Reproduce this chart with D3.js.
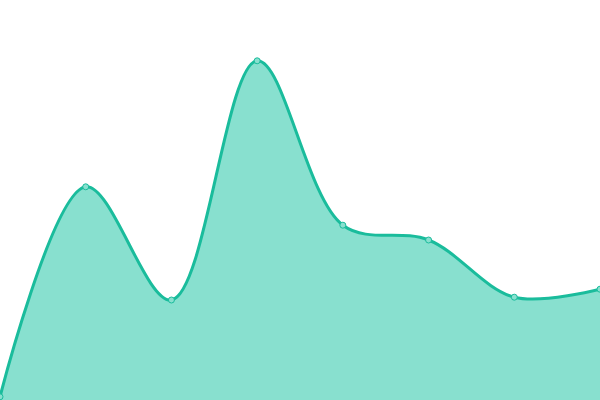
<!DOCTYPE html>
<html>
<head>
<meta charset="utf-8">
<script src="https://cdn.jsdelivr.net/npm/d3@7"></script>
<style>
  html, body { margin: 0; padding: 0; background: #fff; }
  svg { display: block; }
</style>
</head>
<body>
<svg></svg>
<script>
const CATEGORIES = ['A', 'B', 'C', 'D', 'E', 'F', 'G', 'H'];
const VALUES = [0.8, 53.3, 25, 84.8, 43.7, 40, 25.7, 27.7];

const WIDTH = 600;
const HEIGHT = 400;

const x = d3.scalePoint().domain(CATEGORIES).range([0, WIDTH]); // points spread edge to edge
const y = d3.scaleLinear().domain([0, 100]).range([HEIGHT, 0]);

const data = CATEGORIES.map((c, i) => ({ cat: c, value: VALUES[i] }));

const svg = d3.select('svg')
  .attr('width', WIDTH)
  .attr('height', HEIGHT);

// centripetal catmull-rom, handles get shorter next to short segments
const curve = d3.curveCatmullRom.alpha(0.5);

const area = d3.area()
  .x(d => x(d.cat))
  .y0(HEIGHT)
  .y1(d => y(d.value))
  .curve(curve);

const line = d3.line()
  .x(d => x(d.cat))
  .y(d => y(d.value))
  .curve(curve);

svg.append('path')
  .datum(data)
  .attr('d', area)
  .attr('fill', '#88e0cf');

svg.append('path')
  .datum(data)
  .attr('d', line)
  .attr('fill', 'none')
  .attr('stroke', '#1abc9c')
  .attr('stroke-width', 3);

svg.selectAll('.dot')
  .data(data)
  .enter()
  .append('circle')
  .classed('dot', true)
  .attr('cx', d => x(d.cat))
  .attr('cy', d => y(d.value))
  .attr('r', 3)
  .attr('fill', '#88e0cf')
  .attr('stroke', '#1abc9c')
  .attr('stroke-width', 1);
</script>
</body>
</html>
